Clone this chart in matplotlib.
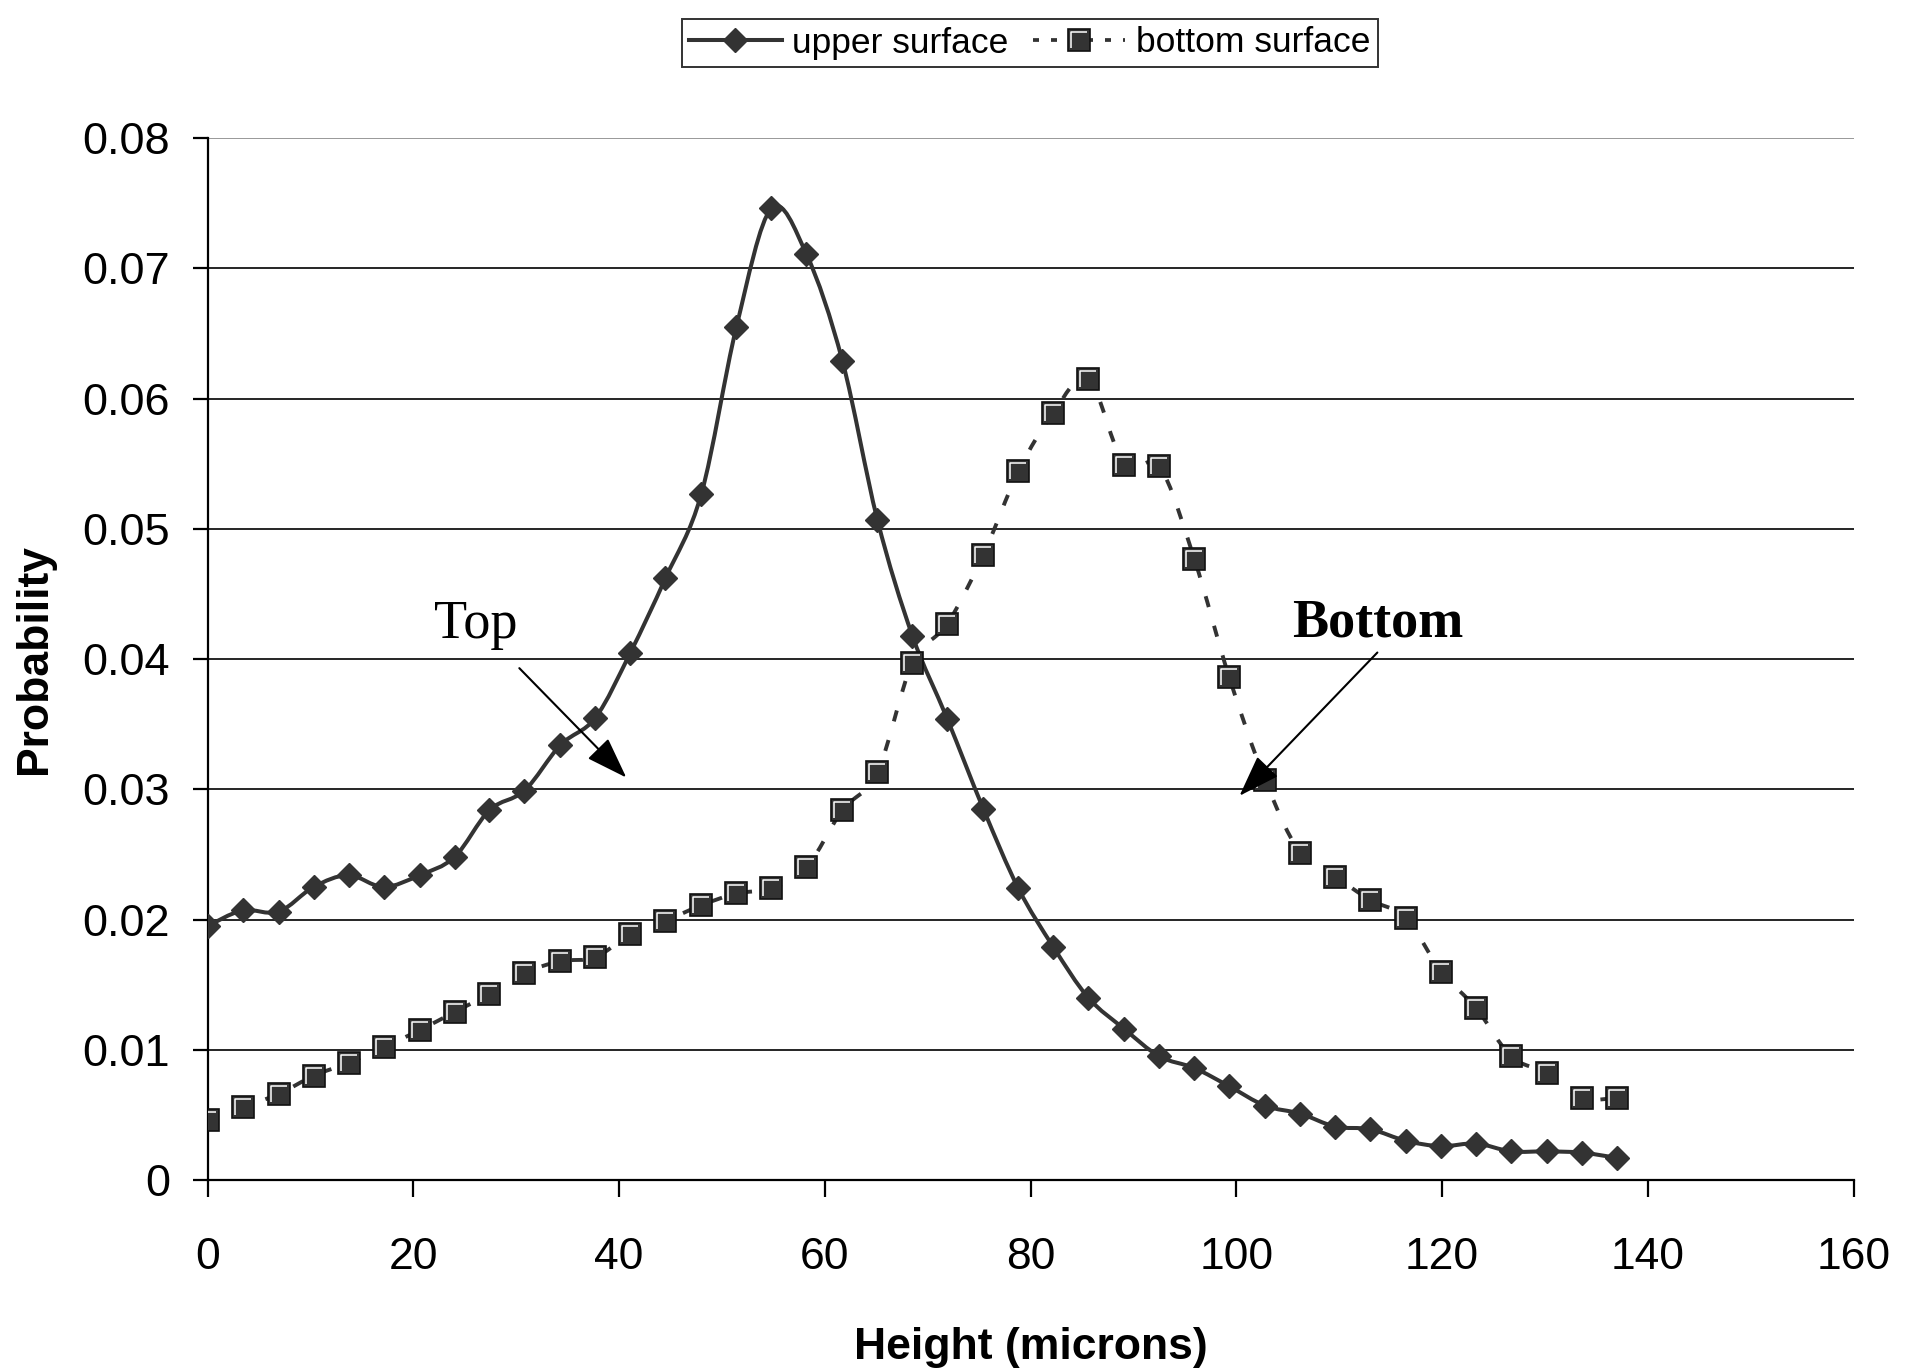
import numpy as np
import matplotlib
matplotlib.use("Agg")
import matplotlib.pyplot as plt
from matplotlib.path import Path
from matplotlib.patches import PathPatch
from matplotlib.lines import Line2D
from matplotlib.legend_handler import HandlerTuple

# bin centres (microns)
height = [0.0, 3.4, 6.9, 10.3, 13.7, 17.1, 20.6, 24.0, 27.4, 30.8,
          34.3, 37.7, 41.1, 44.5, 48.0, 51.4, 54.8, 58.2, 61.7, 65.1,
          68.5, 71.9, 75.4, 78.8, 82.2, 85.6, 89.1, 92.5, 95.9, 99.3,
          102.8, 106.2, 109.6, 113.0, 116.5, 119.9, 123.3, 126.7, 130.2, 133.6,
          137.0]

upper = [0.0195, 0.0207, 0.0206, 0.0225, 0.0234, 0.0225, 0.0234, 0.0248, 0.0284, 0.0299,
         0.0334, 0.0355, 0.0405, 0.0462, 0.0527, 0.0655, 0.0746, 0.0711, 0.0629, 0.0507,
         0.0418, 0.0354, 0.0285, 0.0224, 0.0179, 0.0140, 0.0116, 0.0095, 0.0086, 0.0072,
         0.0057, 0.0051, 0.0041, 0.0039, 0.0030, 0.0026, 0.0028, 0.0022, 0.0022, 0.0021,
         0.0017]

bottom = [0.0046, 0.0056, 0.0066, 0.0080, 0.0090, 0.0102, 0.0115, 0.0129, 0.0143, 0.0159,
          0.0168, 0.0171, 0.0189, 0.0199, 0.0211, 0.0220, 0.0224, 0.0240, 0.0284, 0.0313,
          0.0397, 0.0427, 0.0480, 0.0544, 0.0589, 0.0615, 0.0549, 0.0548, 0.0477, 0.0386,
          0.0307, 0.0251, 0.0233, 0.0215, 0.0201, 0.0160, 0.0132, 0.0095, 0.0082, 0.0063,
          0.0063]

x_ticks = [0, 20, 40, 60, 80, 100, 120, 140, 160]
y_ticks = [0, 0.01, 0.02, 0.03, 0.04, 0.05, 0.06, 0.07, 0.08]
y_ticklabels = ["0", "0.01", "0.02", "0.03", "0.04", "0.05", "0.06", "0.07", "0.08"]

DARK = "#333333"
SANS = "Liberation Sans"
SERIF = "Liberation Serif"


def smooth_path(xs, ys):
    # Excel-style smoothed line: Catmull-Rom segments as cubic Beziers
    pts = np.column_stack([xs, ys])
    n = len(pts)
    verts = [pts[0]]
    codes = [Path.MOVETO]
    for i in range(n - 1):
        p0 = pts[i - 1] if i > 0 else pts[i]
        p1 = pts[i]
        p2 = pts[i + 1]
        p3 = pts[i + 2] if i + 2 < n else pts[i + 1]
        verts += [p1 + (p2 - p0) / 6.0, p2 - (p3 - p1) / 6.0, p2]
        codes += [Path.CURVE4] * 3
    return Path(verts, codes)


# white highlight on the square markers
hl_marker = Path([(-1, -1), (-1, 1), (1, 1)], [Path.MOVETO, Path.LINETO, Path.LINETO])

plt.rcParams["font.family"] = SANS

fig = plt.figure(figsize=(19.15, 13.71), dpi=100)
ax = fig.add_axes([0.1084, 0.1393, 0.968 - 0.1084, 0.8993 - 0.1393])

ax.set_xlim(0, 160)
ax.set_ylim(0, 0.08)

# gridlines
for v in y_ticks[1:]:
    ax.axhline(v, color="black" if v < 0.08 else "#888888", lw=1.2, zorder=1)

# curves
ax.add_patch(PathPatch(smooth_path(height, upper), fill=False, edgecolor=DARK,
                       lw=2.9, zorder=3))
ax.add_patch(PathPatch(smooth_path(height, bottom), fill=False, edgecolor=DARK,
                       lw=2.8, linestyle=(0, (2.9, 5.0)), zorder=3))

# markers
ax.plot(height, upper, ls="none", marker="D", ms=12.3, mfc=DARK, mec=DARK, zorder=4)
ax.plot(height, bottom, ls="none", marker="s", ms=15.5, mfc=DARK, mec="#111111",
        mew=1.2, zorder=4)
ax.plot(height, bottom, ls="none", marker=hl_marker, ms=11.6, mfc="none",
        mec="white", mew=1.1, zorder=5)

# axes styling
for side in ("top", "right"):
    ax.spines[side].set_visible(False)
for side in ("left", "bottom"):
    ax.spines[side].set_linewidth(1.6)
    ax.spines[side].set_color("black")

ax.set_xticks(x_ticks)
ax.set_xticklabels([str(t) for t in x_ticks])
ax.set_yticks(y_ticks)
ax.set_yticklabels(y_ticklabels)
ax.tick_params(axis="x", direction="out", length=12, width=1.6, pad=29, labelsize=32)
ax.tick_params(axis="y", direction="out", length=11, width=1.6, pad=16, labelsize=32.5)

ax.set_xlabel("Height (microns)", fontsize=32, fontweight="bold")
ax.xaxis.set_label_coords(0.5, -0.141)
ax.set_ylabel("Probability", fontsize=32, fontweight="bold")
ax.yaxis.set_label_coords(-0.0925, 0.5)

# annotations
ax.text(26.1, 0.0426, "Top", family=SERIF, fontsize=39, ha="center", va="center")
ax.text(113.7, 0.0427, "Bottom", family=SERIF, fontsize=39, fontweight="bold",
        ha="center", va="center")
arrow = dict(arrowstyle="-|>,head_length=1.3,head_width=0.45", color="black",
             lw=1.5, mutation_scale=20, shrinkA=0, shrinkB=0)
ax.annotate("", xy=(40.7, 0.0309), xytext=(30.3, 0.0393), arrowprops=arrow, zorder=6)
ax.annotate("", xy=(100.3, 0.0295), xytext=(113.7, 0.0405), arrowprops=arrow, zorder=6)

# legend
h_upper = Line2D([], [], color=DARK, lw=2.9, marker="D", ms=12.3, mfc=DARK, mec=DARK)
h_bottom = Line2D([], [], color=DARK, lw=2.7, ls=(0, (1.6, 3.2)), marker="s", ms=15.5,
                  mfc=DARK, mec="#111111", mew=1.2)
h_hl = Line2D([], [], ls="none", marker=hl_marker, ms=11.6, mfc="none", mec="white",
              mew=1.1)
leg = fig.legend([h_upper, (h_bottom, h_hl)], ["upper surface", "bottom surface"],
                 loc="center", bbox_to_anchor=(1030 / 1915, 1 - 43 / 1371), ncol=2,
                 fontsize=25.5, frameon=True, fancybox=False, edgecolor="black",
                 handlelength=2.6, handletextpad=0.3, columnspacing=0.7,
                 borderpad=0.22, numpoints=1,
                 handler_map={tuple: HandlerTuple(ndivide=1)})
leg.get_frame().set_linewidth(1.4)

fig.savefig("out.png", dpi=100)
